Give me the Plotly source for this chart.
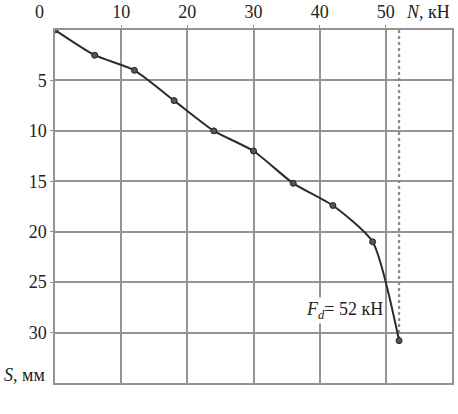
import plotly.graph_objects as go

# load N (kN) vs settlement S (mm)
load_kn = [0, 6, 12, 18, 24, 30, 36, 42, 48, 52]
settle_mm = [0, 2.5, 4, 7, 10, 12, 15.2, 17.4, 21, 30.8]

x_ticks = [10, 20, 30, 40, 50]
y_ticks = [5, 10, 15, 20, 25, 30]

fd_value = 52
fd_label = "<i>F</i><sub><i>d</i></sub>= 52 кН"

font_main = dict(family="Liberation Serif, Times New Roman, serif", size=18, color="#222222")
grid_col = "#949494"

fig = go.Figure()

# limit load line
fig.add_trace(go.Scatter(
    x=[fd_value, fd_value],
    y=[0, settle_mm[-1]],
    mode="lines",
    line=dict(color="#8a8a8a", width=2.2, dash="dot"),
    hoverinfo="skip"
))

fig.add_trace(go.Scatter(
    x=load_kn,
    y=settle_mm,
    mode="lines+markers",
    line=dict(color="#2b2b2b", width=2, shape="spline", smoothing=0.6),
    marker=dict(size=6, color="#555555", line=dict(color="#222222", width=1))
))

fig.update_layout(
    width=458,
    height=414,
    margin=dict(l=55, r=6, t=30, b=31),
    paper_bgcolor="white",
    plot_bgcolor="white",
    showlegend=False,
    font=font_main,
    xaxis=dict(
        side="top",
        range=[0, 60],
        tickvals=x_ticks,
        ticks="outside",
        ticklen=3,
        tickcolor=grid_col,
        showgrid=True,
        gridcolor=grid_col,
        gridwidth=1.5,
        showline=True,
        linecolor=grid_col,
        linewidth=1.5,
        mirror=True,
        zeroline=False,
        automargin=False,
        tickfont=font_main
    ),
    yaxis=dict(
        range=[35, 0],
        tickvals=y_ticks,
        ticks="outside",
        ticklen=3,
        tickcolor=grid_col,
        showgrid=True,
        gridcolor=grid_col,
        gridwidth=1.5,
        showline=True,
        linecolor=grid_col,
        linewidth=1.5,
        mirror=True,
        zeroline=False,
        automargin=False,
        tickfont=font_main
    ),
    annotations=[
        dict(
            x=49.8, y=27.8, xref="x", yref="y",
            text=fd_label, showarrow=False,
            xanchor="right", yanchor="middle",
            bgcolor="white", font=font_main
        ),
        dict(
            x=60, y=1, xref="x", yref="paper",
            text="<i>N</i>, кН", showarrow=False,
            xanchor="right", yanchor="middle", yshift=18,
            font=font_main
        ),
        dict(
            x=0, y=1, xref="x", yref="paper",
            text="0", showarrow=False,
            xanchor="center", yanchor="middle", xshift=-16, yshift=18,
            font=font_main
        ),
        dict(
            x=0, y=34.2, xref="paper", yref="y",
            text="<i>S</i>, мм", showarrow=False,
            xanchor="right", yanchor="middle", xshift=-8,
            font=font_main
        )
    ]
)

# drop the default body margin so the figure sits at the window corner
fig.write_html(
    "out.html",
    config={"displayModeBar": False},
    post_script="document.body.style.margin='0';"
)
